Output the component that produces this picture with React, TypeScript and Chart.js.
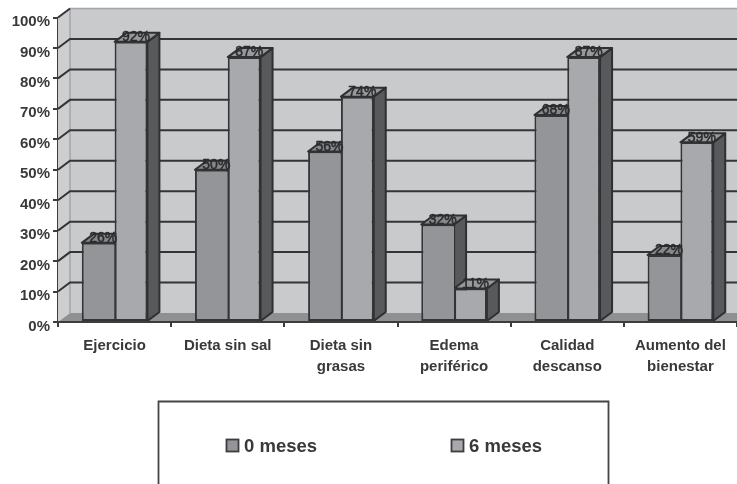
import React, { useEffect, useRef } from "react";
import { Chart, registerables } from "chart.js";

Chart.register(...registerables);

const categories: (string | string[])[] = [
  "Ejercicio",
  "Dieta sin sal",
  ["Dieta sin", "grasas"],
  ["Edema", "periférico"],
  ["Calidad", "descanso"],
  ["Aumento del", "bienestar"],
];
const meses0 = [26, 50, 56, 32, 68, 22];
const meses6 = [92, 87, 74, 11, 87, 59];
const seriesNames = ["0 meses", "6 meses"];

const FONT = "'Liberation Sans', Arial, sans-serif";
const INK = "#38393b";
const DX = 12;
const DY = 9;
const frontColors = ["#949598", "#a7a9ac"];
const topColors = ["#87888b", "#97999c"];
const sideColor = "#58595b";

function poly(ctx: CanvasRenderingContext2D, pts: number[][], fill: string, stroke?: string, lw = 2) {
  ctx.beginPath();
  pts.forEach(([x, y], i) => (i ? ctx.lineTo(x, y) : ctx.moveTo(x, y)));
  ctx.closePath();
  ctx.fillStyle = fill;
  ctx.fill();
  if (stroke) {
    ctx.strokeStyle = stroke;
    ctx.lineWidth = lw;
    ctx.lineJoin = "round";
    ctx.stroke();
  }
}

const wallPlugin = {
  id: "wall3d",
  beforeDatasetsDraw(chart: any) {
    const { ctx, chartArea: a, scales } = chart;
    const R = chart.width;
    ctx.save();
    // back wall
    poly(ctx, [[a.left + DX, a.top - DY], [R, a.top - DY], [R, a.bottom - DY], [a.left + DX, a.bottom - DY]], "#c9cacc");
    // left wall
    poly(ctx, [[a.left, a.top], [a.left + DX, a.top - DY], [a.left + DX, a.bottom - DY], [a.left, a.bottom]], "#cdcecf");
    // floor
    poly(ctx, [[a.left, a.bottom], [a.left + DX, a.bottom - DY], [R, a.bottom - DY], [R, a.bottom]], "#8f9092");
    // wall edges
    ctx.strokeStyle = "#a4a5a8";
    ctx.lineWidth = 1.5;
    ctx.beginPath();
    ctx.moveTo(a.left + DX, a.bottom - DY);
    ctx.lineTo(a.left + DX, a.top - DY);
    ctx.lineTo(R, a.top - DY);
    ctx.stroke();
    // gridlines
    const y = scales.y;
    y.ticks.forEach((t: any) => {
      if (t.value === 0) return;
      const py = y.getPixelForValue(t.value);
      ctx.strokeStyle = "#333436";
      ctx.lineWidth = 2;
      ctx.beginPath();
      ctx.moveTo(a.left, py);
      ctx.lineTo(a.left + DX, py - DY);
      if (t.value < 100) ctx.lineTo(R, py - DY);
      ctx.stroke();
    });
    // 3D faces of the bars
    chart.data.datasets.forEach((_: any, di: number) => {
      chart.getDatasetMeta(di).data.forEach((b: any) => {
        const { x, y: top, base, width } = b.getProps(["x", "y", "base", "width"], true);
        const l = x - width / 2;
        const r = x + width / 2;
        poly(ctx, [[r, top], [r + DX, top - DY], [r + DX, base - DY], [r, base]], sideColor, "#2f3032");
        poly(ctx, [[l, top], [l + DX, top - DY], [r + DX, top - DY], [r, top]], topColors[di], "#2f3032");
      });
    });
    ctx.restore();
  },
  afterDatasetsDraw(chart: any) {
    const { ctx, chartArea: a } = chart;
    ctx.save();
    // value labels on the top faces
    ctx.font = `14px ${FONT}`;
    ctx.fillStyle = "#2b2c2e";
    ctx.strokeStyle = "#2b2c2e";
    ctx.lineWidth = 0.5;
    ctx.textAlign = "center";
    ctx.textBaseline = "middle";
    chart.data.datasets.forEach((ds: any, di: number) => {
      chart.getDatasetMeta(di).data.forEach((b: any, i: number) => {
        const { x, y } = b.getProps(["x", "y"], true);
        ctx.fillText(`${ds.data[i]}%`, x + 5, y - 4.5);
        ctx.strokeText(`${ds.data[i]}%`, x + 5, y - 4.5);
      });
    });
    // floor line
    ctx.strokeStyle = "#3c3d3f";
    ctx.lineWidth = 2;
    ctx.beginPath();
    ctx.moveTo(a.left, a.bottom);
    ctx.lineTo(chart.width, a.bottom);
    ctx.stroke();
    // legend
    ctx.strokeStyle = "#444547";
    ctx.lineWidth = 1.8;
    ctx.beginPath();
    ctx.moveTo(158.5, chart.height + 2);
    ctx.lineTo(158.5, 401.5);
    ctx.lineTo(608.5, 401.5);
    ctx.lineTo(608.5, chart.height + 2);
    ctx.stroke();
    const lx = [226, 451];
    ctx.font = `bold 18.5px ${FONT}`;
    ctx.textAlign = "left";
    chart.data.datasets.forEach((ds: any, di: number) => {
      ctx.fillStyle = frontColors[di];
      ctx.strokeStyle = "#3c3d3f";
      ctx.lineWidth = 1.8;
      ctx.fillRect(lx[di] + 0.5, 439.5, 12, 12);
      ctx.strokeRect(lx[di] + 0.5, 439.5, 12, 12);
      ctx.fillStyle = INK;
      ctx.fillText(ds.label, lx[di] + 18, 446.5);
    });
    ctx.restore();
  },
};

export default function App() {
  const ref = useRef<HTMLCanvasElement>(null);
  useEffect(() => {
    document.body.style.margin = "0";
    const chart = new Chart(ref.current!, {
      type: "bar",
      data: {
        labels: categories as any,
        datasets: [
          {
            label: seriesNames[0],
            data: meses0,
            backgroundColor: frontColors[0],
            borderColor: "#333436",
            borderWidth: { left: 2, top: 2, right: 0, bottom: 2 },
          },
          { label: seriesNames[1], data: meses6, backgroundColor: frontColors[1], borderColor: "#333436", borderWidth: 2 },
        ],
      },
      options: {
        animation: false,
        responsive: false,
        devicePixelRatio: 1,
        layout: { padding: { top: 17.5, right: -1, left: 0, bottom: 0 } },
        datasets: { bar: { categoryPercentage: 0.58, barPercentage: 1, borderSkipped: false } },
        plugins: { legend: { display: false }, tooltip: { enabled: false }, title: { display: false } },
        scales: {
          x: {
            afterFit: (s: any) => { s.height = 162; },
            grid: { drawOnChartArea: false, drawTicks: true, tickLength: 5, color: "#3c3d3f", lineWidth: 2 },
            border: { color: "#3c3d3f", width: 2 },
            ticks: {
              autoSkip: false,
              maxRotation: 0,
              minRotation: 0,
              padding: 7.5,
              color: INK,
              font: { family: FONT, size: 15, weight: "bold", lineHeight: 1.45 },
            },
          },
          y: {
            min: 0,
            max: 100,
            afterFit: (s: any) => { s.width = 58; },
            grid: { drawOnChartArea: false, drawTicks: true, tickLength: 5, color: "#3c3d3f", lineWidth: 2 },
            border: { color: "#3c3d3f", width: 2 },
            ticks: {
              stepSize: 10,
              padding: 3,
              labelOffset: 4.5,
              color: INK,
              font: { family: FONT, size: 15, weight: "bold" },
              callback: (v: any) => `${v}%`,
            },
          },
        },
      },
      plugins: [wallPlugin],
    } as any);
    return () => chart.destroy();
  }, []);
  return <canvas ref={ref} width={737} height={484} style={{ display: "block", width: 737, height: 484, filter: "blur(0.45px)" }} />;
}
